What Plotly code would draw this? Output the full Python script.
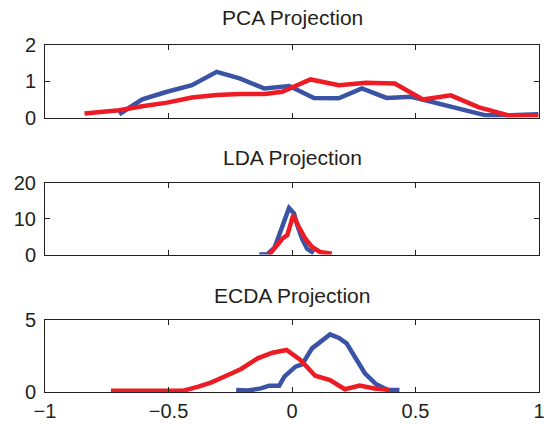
import plotly.graph_objects as go

# PCA projection
pca_blue_x = [-0.70, -0.606, -0.506, -0.405, -0.305, -0.212, -0.112, -0.011, 0.089, 0.189, 0.283, 0.383, 0.483, 0.583, 0.683, 0.784, 0.884, 0.997]
pca_blue_y = [0.09, 0.50, 0.71, 0.89, 1.26, 1.08, 0.80, 0.87, 0.54, 0.53, 0.80, 0.54, 0.57, 0.41, 0.25, 0.06, 0.06, 0.09]
pca_red_x = [-0.84, -0.70, -0.606, -0.506, -0.405, -0.305, -0.21, -0.11, -0.04, 0.075, 0.19, 0.30, 0.416, 0.53, 0.643, 0.757, 0.877, 0.997]
pca_red_y = [0.11, 0.20, 0.31, 0.41, 0.55, 0.62, 0.65, 0.65, 0.71, 1.05, 0.89, 0.96, 0.94, 0.50, 0.61, 0.28, 0.06, 0.06]

# LDA projection
lda_blue_x = [-0.132, -0.099, -0.070, -0.046, -0.032, -0.012, 0.008, 0.021, 0.041, 0.061, 0.088]
lda_blue_y = [0.0, 0.1, 2.0, 6.3, 9.1, 13.0, 11.5, 8.2, 4.4, 1.6, 0.4]
lda_red_x = [-0.092, -0.059, -0.039, -0.019, 0.005, 0.028, 0.054, 0.081, 0.114, 0.161]
lda_red_y = [0.0, 2.5, 4.4, 5.4, 11.0, 7.7, 4.4, 2.1, 0.7, 0.2]

# ECDA projection
ecda_blue_x = [-0.226, -0.179, -0.126, -0.092, -0.052, -0.030, 0.014, 0.041, 0.081, 0.154, 0.190, 0.221, 0.295, 0.341, 0.388, 0.435]
ecda_blue_y = [0.14, 0.10, 0.25, 0.44, 0.44, 1.08, 1.76, 1.92, 3.03, 4.00, 3.75, 3.38, 1.30, 0.53, 0.14, 0.14]
ecda_red_x = [-0.733, -0.50, -0.44, -0.379, -0.326, -0.266, -0.206, -0.139, -0.079, -0.022, 0.034, 0.094, 0.154, 0.214, 0.274, 0.334, 0.395]
ecda_red_y = [0.09, 0.09, 0.09, 0.37, 0.67, 1.13, 1.60, 2.34, 2.73, 2.92, 2.22, 1.13, 0.83, 0.19, 0.44, 0.25, 0.14]

titles = ["PCA Projection", "LDA Projection", "ECDA Projection"]
x_ticks = [-1, -0.5, 0, 0.5, 1]
x_tick_text = ["\u22121", "\u22120.5", "0", "0.5", "1"]

BLUE = "#3A53A4"
RED = "#ED1C24"
INK = "#231F20"
FAMILY = "Liberation Sans, Arial, Helvetica, sans-serif"

fig = go.Figure()
series = [
    (pca_blue_x, pca_blue_y, pca_red_x, pca_red_y, "x", "y"),
    (lda_blue_x, lda_blue_y, lda_red_x, lda_red_y, "x2", "y2"),
    (ecda_blue_x, ecda_blue_y, ecda_red_x, ecda_red_y, "x3", "y3"),
]
for bx, by, rx, ry, xa, ya in series:
    fig.add_trace(go.Scatter(x=bx, y=by, mode="lines", line=dict(color=BLUE, width=4.5),
                             xaxis=xa, yaxis=ya, showlegend=False, hoverinfo="skip"))
    fig.add_trace(go.Scatter(x=rx, y=ry, mode="lines", line=dict(color=RED, width=4.5),
                             xaxis=xa, yaxis=ya, showlegend=False, hoverinfo="skip"))

H_top, H_bot, H = 45, 33, 425
ph = H - H_top - H_bot
def dom(top_px, bot_px):
    return [(H - H_bot - bot_px) / ph, (H - H_bot - top_px) / ph]

doms = [dom(45, 117.5), dom(183, 254.5), dom(320, 392)]
yranges = [[0, 2], [0, 20], [0, 5]]
yticks = [[0, 1, 2], [0, 10, 20], [0, 5]]

tickfont = dict(family=FAMILY, size=20, color=INK)
axis_common = dict(showline=True, linecolor=INK, linewidth=1, mirror="ticks",
                   ticks="inside", ticklen=5, tickcolor=INK, tickwidth=1,
                   showgrid=False, zeroline=False, tickfont=tickfont,
                   ticklabeloverflow="allow")

layout = dict(width=547, height=425, margin=dict(l=45, r=8, t=H_top, b=H_bot, autoexpand=False),
              plot_bgcolor="white", paper_bgcolor="white", font=tickfont)
for i in range(3):
    sfx = "" if i == 0 else str(i + 1)
    layout["xaxis" + sfx] = dict(range=[-1, 1], tickvals=x_ticks, ticktext=x_tick_text,
                                 showticklabels=(i == 2), anchor="y" + sfx,
                                 domain=[0, 1], ticklabelstandoff=1, **axis_common)
    layout["yaxis" + sfx] = dict(range=yranges[i], tickvals=yticks[i], anchor="x" + sfx,
                                 domain=doms[i], ticklabelstandoff=4, **axis_common)
fig.update_layout(**layout)

title_y_px = [18, 157, 295]
for t, ypx in zip(titles, title_y_px):
    fig.add_annotation(text=t, xref="paper", yref="paper", x=0.5,
                       y=(H - H_bot - ypx) / ph, showarrow=False, yanchor="middle",
                       font=dict(family=FAMILY, size=21, color=INK))

fig.write_html("out.html", config={"displayModeBar": False},
               post_script="document.body.style.margin='0';document.body.style.padding='0';")
